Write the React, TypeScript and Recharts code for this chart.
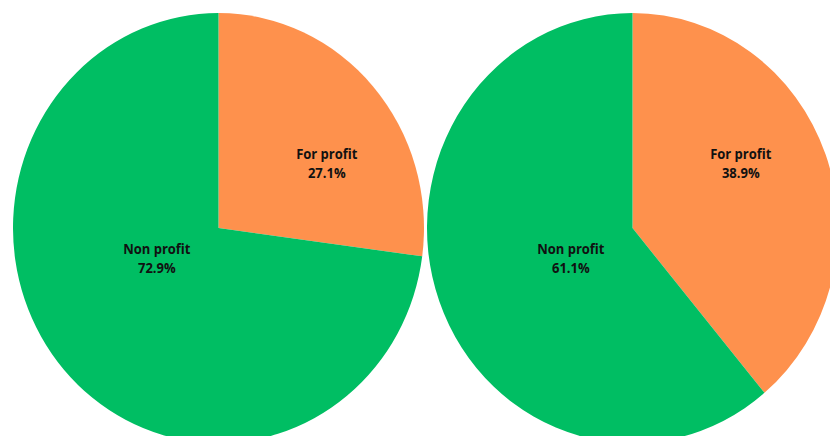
import { PieChart, Pie, Cell } from "recharts";

// left pie
const SECTORS = ["For profit", "Non profit"];
const LEFT_VALUES = [27.1, 72.9];
// right pie
const RIGHT_VALUES = [38.9, 61.1];

const COLORS = ["#FE914D", "#00BE63"];

// label anchor as a fraction of the radius (Excel puts them at fixed spots)
const LABEL_POS: Record<string, { dx: number; dy: number }> = {
  "For profit": { dx: 0.527, dy: -0.321 },
  "Non profit": { dx: -0.3, dy: 0.121 },
};

const STRETCH_Y = 215 / 205.5;

const leftData = SECTORS.map((name, i) => ({ name, value: LEFT_VALUES[i] }));
const rightData = SECTORS.map((name, i) => ({ name, value: RIGHT_VALUES[i] }));

function SliceLabel(props: any) {
  const { cx, cy, outerRadius, name, value } = props;
  const pos = LABEL_POS[name];
  const x = cx + pos.dx * outerRadius;
  const y = cy + pos.dy * outerRadius;
  return (
    <text
      x={x}
      y={y}
      textAnchor="middle"
      fill="#111"
      fontFamily="'Open Sans', sans-serif"
      fontWeight={700}
      fontSize={13}
    >
      <tspan x={x} y={y}>
        {name}
      </tspan>
      <tspan x={x} dy={18.2}>
        {value.toFixed(1)}%
      </tspan>
    </text>
  );
}

export default function App() {
  return (
    <div
      style={{
        position: "absolute",
        left: 0,
        top: 0,
        width: 830,
        height: 436,
        overflow: "hidden",
        background: "#fff",
      }}
    >
      <div style={{ transform: `scaleY(${STRETCH_Y})`, transformOrigin: "0 0" }}>
        <PieChart width={830} height={436} margin={{ top: 0, right: 0, bottom: 0, left: 0 }}>
          <Pie
            data={leftData}
            dataKey="value"
            nameKey="name"
            cx={218.5}
            cy={218}
            outerRadius={205.5}
            startAngle={90}
            endAngle={-270}
            stroke="none"
            label={SliceLabel}
            labelLine={false}
            isAnimationActive={false}
          >
            {leftData.map((_, i) => (
              <Cell key={i} fill={COLORS[i]} />
            ))}
          </Pie>
          <Pie
            data={rightData}
            dataKey="value"
            nameKey="name"
            cx={632.5}
            cy={218}
            outerRadius={205.5}
            startAngle={90}
            endAngle={-270}
            stroke="none"
            label={SliceLabel}
            labelLine={false}
            isAnimationActive={false}
          >
            {rightData.map((_, i) => (
              <Cell key={i} fill={COLORS[i]} />
            ))}
          </Pie>
        </PieChart>
      </div>
    </div>
  );
}
